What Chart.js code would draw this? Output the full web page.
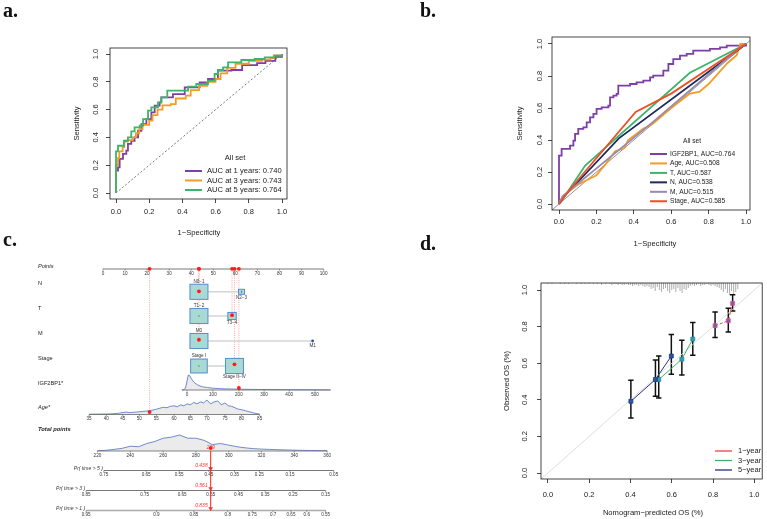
<!DOCTYPE html>
<html>
<head>
<meta charset="utf-8">
<title>ROC, nomogram and calibration</title>
<script src="https://cdn.jsdelivr.net/npm/chart.js@4.4.1/dist/chart.umd.min.js"></script>
<style>
  html, body { margin: 0; padding: 0; background: #fff; }
  #fig { position: relative; width: 767px; height: 519px; overflow: hidden; }
  #fig canvas { position: absolute; left: 0; top: 0; }
  .tag { position: absolute; font: bold 20px/20px "Liberation Serif", "DejaVu Serif", serif; color: #111; }
</style>
</head>
<body>
<div id="fig">
  <canvas id="chartA" width="767" height="519"></canvas>
  <canvas id="chartB" width="767" height="519"></canvas>
  <canvas id="chartC" width="767" height="519"></canvas>
  <canvas id="chartD" width="767" height="519"></canvas>
  <div class="tag" style="left:3px;top:0px">a.</div>
  <div class="tag" style="left:420px;top:0px">b.</div>
  <div class="tag" style="left:3px;top:229px">c.</div>
  <div class="tag" style="left:420px;top:233px">d.</div>
</div>
<script>
// ============================================
// ROC curves (a, b), nomogram (c), calibration (d)
// ============================================

// ---- a. time-dependent ROC ----
const rocTicks = [0, 0.2, 0.4, 0.6, 0.8, 1.0];
const aLabels = ['AUC at 1 years: 0.740', 'AUC at 3 years: 0.743', 'AUC at 5 years: 0.764'];
const aColors = ['#7d3fa6', '#f39c25', '#3db36c'];
const a1Fpr = [0, 0, 0.012, 0.022, 0.042, 0.062, 0.072, 0.092, 0.112, 0.133, 0.153, 0.183, 0.213, 0.233, 0.263, 0.273, 0.343, 0.414, 0.504, 0.554, 0.614, 0.695, 0.75, 0.76, 0.85, 0.9, 0.95, 0.96, 1];
const a1Tpr = [0, 0.161, 0.185, 0.245, 0.281, 0.305, 0.353, 0.376, 0.40, 0.448, 0.496, 0.532, 0.58, 0.628, 0.652, 0.688, 0.712, 0.76, 0.796, 0.82, 0.88, 0.885, 0.885, 0.92, 0.935, 0.95, 0.95, 0.98, 1];
const a3Fpr = [0, 0, 0.012, 0.02, 0.04, 0.05, 0.07, 0.1, 0.12, 0.14, 0.16, 0.2, 0.22, 0.25, 0.28, 0.33, 0.36, 0.42, 0.45, 0.5, 0.55, 0.6, 0.63, 0.67, 0.72, 0.8, 0.88, 0.93, 0.95, 1];
const a3Tpr = [0, 0.2, 0.25, 0.3, 0.33, 0.37, 0.38, 0.4, 0.43, 0.46, 0.49, 0.52, 0.56, 0.6, 0.63, 0.64, 0.68, 0.7, 0.74, 0.77, 0.8, 0.82, 0.86, 0.9, 0.93, 0.95, 0.96, 0.97, 0.99, 1];
const a5Fpr = [0, 0, 0.012, 0.012, 0.048, 0.048, 0.072, 0.092, 0.112, 0.143, 0.163, 0.193, 0.213, 0.253, 0.273, 0.309, 0.309, 0.394, 0.434, 0.484, 0.554, 0.594, 0.614, 0.645, 0.675, 0.755, 0.835, 0.896, 0.956, 1];
const a5Tpr = [0, 0.30, 0.30, 0.34, 0.34, 0.376, 0.40, 0.444, 0.472, 0.484, 0.532, 0.592, 0.616, 0.652, 0.688, 0.688, 0.736, 0.736, 0.765, 0.784, 0.808, 0.856, 0.885, 0.904, 0.94, 0.957, 0.964, 0.976, 0.988, 1];

// ---- b. ROC by variable ----
const bLabels = ['IGF2BP1, AUC=0.764', 'Age, AUC=0.508', 'T, AUC=0.587', 'N, AUC=0.538', 'M, AUC=0.515', 'Stage, AUC=0.585'];
const bColors = ['#7d3fa6', '#f39c25', '#3db36c', '#1d2a5c', '#9c88ab', '#f04f24'];
const bIgfFpr = [0, 0, 0.014, 0.014, 0.041, 0.059, 0.077, 0.086, 0.103, 0.13, 0.148, 0.166, 0.184, 0.201, 0.228, 0.264, 0.273, 0.291, 0.308, 0.317, 0.38, 0.415, 0.451, 0.487, 0.504, 0.558, 0.585, 0.611, 0.647, 0.683, 0.718, 0.807, 0.861, 0.897, 1];
const bIgfTpr = [0, 0.302, 0.302, 0.344, 0.344, 0.365, 0.396, 0.438, 0.469, 0.479, 0.51, 0.542, 0.563, 0.594, 0.604, 0.615, 0.667, 0.677, 0.688, 0.74, 0.75, 0.76, 0.771, 0.792, 0.802, 0.833, 0.875, 0.906, 0.927, 0.938, 0.958, 0.969, 0.979, 0.99, 1];
const bAgeFpr = [0, 0.02, 0.1, 0.2, 0.25, 0.3, 0.35, 0.37, 0.45, 0.5, 0.6, 0.7, 0.75, 0.8, 0.9, 0.95, 0.97, 1];
const bAgeTpr = [0, 0.05, 0.12, 0.18, 0.25, 0.33, 0.35, 0.4, 0.47, 0.5, 0.6, 0.69, 0.7, 0.75, 0.88, 0.93, 1, 1];
const bTFpr = [0, 0.02, 0.14, 0.7, 1];
const bTTpr = [0, 0.03, 0.24, 0.82, 1];
const bNFpr = [0, 0.03, 0.32, 1];
const bNTpr = [0, 0.05, 0.41, 1];
const bMFpr = [0, 0.02, 0.5, 0.98, 1];
const bMTpr = [0, 0.05, 0.51, 0.99, 1];
const bStageFpr = [0, 0.05, 0.41, 0.6, 1];
const bStageTpr = [0, 0.08, 0.575, 0.69, 1];

// ---- c. nomogram ----
const pointsTicks = [0, 10, 20, 30, 40, 50, 60, 70, 80, 90, 100];
const nLevels = ['N0−1', 'N2−3'], nPoints = [43.5, 62.8], nFreq = [0.9, 0.1], nSel = 0;
const tLevels = ['T1−2', 'T3−4'], tPoints = [43.5, 58.5], tFreq = [0.82, 0.18], tSel = 1;
const mLevels = ['M0', 'M1'], mPoints = [43.5, 95], mFreq = [0.98, 0.01], mSel = 0;
const stageLevels = ['Stage I', 'Stage II−IV'], stagePoints = [43.5, 59.6], stageFreq = [0.46, 0.54], stageSel = 1;
const igfTicks = [0, 100, 200, 300, 400, 500];
const igfTickPts = [38.1, 49.8, 61.6, 73.0, 84.4, 96.1];
const igfGrid = [-20, -10, -5, 0, 5, 10, 15, 20, 30, 40, 50, 60, 80, 100, 125, 150, 200, 250, 300, 400, 500, 560];
const igfDens = [0, 0.5, 3, 9, 15, 14.5, 12, 10, 7, 5.2, 4, 3.2, 2.4, 1.8, 1.4, 1.1, 0.8, 0.6, 0.5, 0.3, 0.2, 0.1];
const igfSel = 200;
const ageTicks = [35, 40, 45, 50, 55, 60, 65, 70, 75, 80, 85];
const ageTickPts = [-6.3, 1.5, 9.0, 16.5, 24.2, 32.2, 39.6, 47.1, 55.3, 62.8, 71.0];
const ageGrid = [35, 36, 37, 38, 39, 40, 41, 42, 43, 44, 45, 46, 47, 48, 49, 50, 51, 52, 53, 54, 55, 56, 57, 58, 59, 60, 61, 62, 63, 64, 65, 66, 67, 68, 69, 70, 71, 72, 73, 74, 75, 76, 77, 78, 79, 80, 81, 82, 83, 84, 85];
const ageDens = [0.3, 0.3, 0.4, 0.4, 0.5, 0.5, 0.6, 0.8, 1, 1.5, 2, 2.5, 2, 2.2, 2.5, 2.8, 3.2, 3.5, 4, 4.5, 5.5, 6.5, 7.5, 7, 8.5, 9, 8, 10, 9, 11, 10, 12.5, 11, 13, 12, 15, 11, 13, 14, 10, 12, 9, 8.5, 7, 5.5, 5, 4, 3, 2, 1, 0.5];
const ageSel = 53;
const totalTicks = [220, 240, 260, 280, 300, 320, 340, 360];
const totalTickPts = [-2.5, 12.4, 27.3, 42.1, 57.0, 71.8, 86.7, 101.6];
const totalGrid = [220, 225, 230, 235, 240, 245, 250, 255, 260, 265, 270, 275, 280, 285, 290, 295, 300, 305, 310, 315, 320, 325, 330, 335, 340, 345, 350, 355, 360];
const totalDens = [0.3, 0.6, 1.5, 2.5, 4.5, 4, 7, 9, 12, 13, 15, 12, 12, 10, 6, 7, 5.5, 4, 3, 2.2, 1.8, 1.5, 1.2, 1, 0.8, 0.6, 0.5, 0.4, 0.3];
const totalSel = 289;
const prNames = ['Pr( time > 5 )', 'Pr( time > 3 )', 'Pr( time > 1 )'];
const pr5Ticks = ['0.75', '0.65', '0.55', '0.45', '0.35', '0.25', '0.15', '0.05'];
const pr5Total = [223.9, 249.6, 269.8, 287.9, 303.6, 318.7, 337.4, 364.0];
const pr3Ticks = ['0.85', '0.75', '0.65', '0.55', '0.45', '0.35', '0.25', '0.15'];
const pr3Total = [213.1, 248.7, 271.6, 289.1, 306.0, 322.3, 339.2, 359.1];
const pr1Ticks = ['0.95', '0.9', '0.85', '0.8', '0.75', '0.7', '0.65', '0.6', '0.55'];
const pr1Total = [213.1, 255.9, 278.8, 299.4, 314.4, 327.1, 338.0, 347.6, 359.1];
const prPred = ['0.438', '0.561', '0.835'];

// ---- d. calibration ----
const calLabels = ['1−year', '3−year', '5−year'];
const calColors = ['#e8453c', '#3db36c', '#25307a'];
const cal1Pred = [0.81, 0.874, 0.895], cal1Obs = [0.805, 0.832, 0.927], cal1Lo = [0.741, 0.77, 0.885], cal1Hi = [0.88, 0.9, 0.974];
const cal3Pred = [0.537, 0.649, 0.702], cal3Obs = [0.511, 0.622, 0.732], cal3Lo = [0.41, 0.535, 0.644], cal3Hi = [0.639, 0.726, 0.823];
const cal5Pred = [0.402, 0.521, 0.598], cal5Obs = [0.392, 0.511, 0.639], cal5Lo = [0.301, 0.42, 0.54], cal5Hi = [0.507, 0.617, 0.757];
const rugX = [0, 0.02, 0.04, 0.06, 0.08, 0.1, 0.12, 0.14, 0.16, 0.18, 0.2, 0.22, 0.24, 0.26, 0.28,
  0.3, 0.31, 0.32, 0.33, 0.34, 0.35, 0.36, 0.37, 0.38, 0.39, 0.4, 0.41, 0.42, 0.43, 0.44, 0.45, 0.46, 0.47, 0.48, 0.49,
  0.5, 0.51, 0.52, 0.53, 0.54, 0.55, 0.56, 0.57, 0.58, 0.59, 0.6, 0.61, 0.62, 0.63, 0.64, 0.65, 0.66, 0.67, 0.68,
  0.69, 0.7, 0.71, 0.72, 0.73, 0.74, 0.75, 0.76, 0.77, 0.78, 0.79, 0.8, 0.81, 0.82,
  0.83, 0.84, 0.85, 0.86, 0.87, 0.88, 0.89, 0.9, 0.91, 0.92];
const rugN = [1, 1, 0, 1, 1, 1, 0, 1, 1, 1, 1, 1, 1, 2, 1,
  1, 2, 1, 1, 2, 1, 2, 2, 1, 2, 2, 3, 2, 2, 3, 2, 3, 4, 3, 4,
  6, 5, 8, 4, 7, 9, 6, 5, 8, 10, 7, 6, 9, 5, 8, 10, 6, 7, 5,
  3, 2, 3, 2, 1, 3, 2, 2, 1, 2, 3, 2, 3, 4,
  5, 7, 9, 6, 10, 12, 8, 11, 9, 6];

// --------------------------------------------
const W = 767, H = 519;
const SANS = "'Liberation Sans', Arial, sans-serif";
const INK = '#1a1a1a';
Chart.defaults.font.family = SANS;
Chart.defaults.animation = false;

// plot box in page pixels + pixel positions of 0 and 1 -> axis limits
function frame(box, x0, x1, y0, y1) {
  const sx = x1 - x0, sy = y0 - y1;
  return { box, xmin: (box.l - x0) / sx, xmax: (box.r - x0) / sx, ymin: (y0 - box.b) / sy, ymax: (y0 - box.t) / sy };
}

const xy = (xs, ys) => xs.map((x, i) => ({ x, y: ys[i] }));

function curve(xs, ys, color, extra) {
  return Object.assign({
    data: xy(xs, ys), borderColor: color, backgroundColor: color,
    borderWidth: 1.8, pointRadius: 0, fill: false, tension: 0
  }, extra || {});
}

function baseOptions(fr, frameOpts) {
  const grid = { drawOnChartArea: false, drawTicks: true, tickLength: 4, color: INK, tickColor: INK, lineWidth: 0.8 };
  const setTicks = s => { s.ticks = rocTicks.map(v => ({ value: v })); };
  return {
    responsive: false, animation: false, events: [], devicePixelRatio: 1,
    layout: { padding: { left: fr.box.l, top: fr.box.t, right: W - fr.box.r, bottom: H - fr.box.b } },
    scales: {
      x: { type: 'linear', min: fr.xmin, max: fr.xmax, grid, border: { display: false },
           ticks: { display: false }, afterBuildTicks: setTicks, afterFit: s => { s.height = 0; } },
      y: { type: 'linear', min: fr.ymin, max: fr.ymax, grid, border: { display: false },
           ticks: { display: false }, afterBuildTicks: setTicks, afterFit: s => { s.width = 0; } }
    },
    plugins: { legend: { display: false }, tooltip: { enabled: false }, rframe: frameOpts }
  };
}

function vText(ctx, s, x, y) {
  ctx.save(); ctx.translate(x, y); ctx.rotate(-Math.PI / 2); ctx.fillText(s, 0, 0); ctx.restore();
}

// R-style box, rotated y labels, titles and inset legend
const rFrame = {
  id: 'rframe',
  afterDraw(chart, args, o) {
    const { ctx, chartArea: a, scales: { x, y } } = chart;
    ctx.save();
    ctx.strokeStyle = INK; ctx.lineWidth = 0.8;
    ctx.strokeRect(a.left, a.top, a.right - a.left, a.bottom - a.top);
    ctx.fillStyle = INK; ctx.font = '7.5px ' + SANS;
    ctx.textAlign = 'center'; ctx.textBaseline = 'middle';
    x.ticks.forEach(t => ctx.fillText(t.value.toFixed(1), x.getPixelForValue(t.value), o.xLabelY));
    y.ticks.forEach(t => vText(ctx, t.value.toFixed(1), o.yLabelX, y.getPixelForValue(t.value)));
    ctx.font = '7.6px ' + SANS;
    ctx.fillText(o.xTitle, o.xTitleX, o.xTitleY);
    vText(ctx, o.yTitle, o.yTitleX, (a.top + a.bottom) / 2);
    const L = o.legend;
    if (L) {
      ctx.font = L.font;
      if (L.title) ctx.fillText(L.title, L.titleX, L.titleY);
      ctx.textAlign = 'left';
      L.labels.forEach((s, i) => {
        const yy = L.y0 + i * L.dy;
        ctx.strokeStyle = L.colors[i]; ctx.lineWidth = L.lw;
        ctx.beginPath(); ctx.moveTo(L.x0, yy); ctx.lineTo(L.x1, yy); ctx.stroke();
        ctx.fillText(s, L.textX, yy);
      });
    }
    ctx.restore();
  }
};

// ---------- a ----------
const frA = frame({ l: 110, t: 48, r: 287, b: 199 }, 116, 282, 193, 54);
new Chart(document.getElementById('chartA'), {
  type: 'line',
  data: { datasets: [
    curve([0, 1], [0, 1], '#555', { borderWidth: 0.8, borderDash: [2, 2], order: 4 }),
    curve(a1Fpr, a1Tpr, aColors[0], { stepped: true, order: 3 }),
    curve(a3Fpr, a3Tpr, aColors[1], { stepped: true, order: 2 }),
    curve(a5Fpr, a5Tpr, aColors[2], { stepped: true, order: 1 })
  ] },
  options: baseOptions(frA, {
    xLabelY: 212, yLabelX: 96, xTitle: '1−Specificity', xTitleX: 199, xTitleY: 233,
    yTitle: 'Sensitivity', yTitleX: 77,
    legend: { title: 'All set', titleX: 235, titleY: 158, labels: aLabels, colors: aColors,
              x0: 185, x1: 202, textX: 207, y0: 171, dy: 9.5, lw: 2, font: '7.6px ' + SANS }
  }),
  plugins: [rFrame]
});

// ---------- b ----------
const frB = frame({ l: 552, t: 37, r: 750, b: 210 }, 559, 746, 204, 44);
const bFpr = [bIgfFpr, bAgeFpr, bTFpr, bNFpr, bMFpr, bStageFpr];
const bTpr = [bIgfTpr, bAgeTpr, bTTpr, bNTpr, bMTpr, bStageTpr];
new Chart(document.getElementById('chartB'), {
  type: 'line',
  data: { datasets: [
    curve([-0.1, 1.1], [-0.1, 1.1], '#777', { borderWidth: 0.8, order: 10 }),
    ...bFpr.map((f, i) => curve(f, bTpr[i], bColors[i], { stepped: i === 0, order: 6 - i }))
  ] },
  options: baseOptions(frB, {
    xLabelY: 222, yLabelX: 540, xTitle: '1−Specificity', xTitleX: 655, xTitleY: 244,
    yTitle: 'Sensitivity', yTitleX: 520,
    legend: { title: 'All set', titleX: 692, titleY: 141, labels: bLabels, colors: bColors,
              x0: 650, x1: 667, textX: 670, y0: 154, dy: 9.45, lw: 2, font: '6.6px ' + SANS }
  }),
  plugins: [rFrame]
});

// ---------- c: nomogram ----------
function interp(v, xs, ys) {
  let i = 1;
  while (i < xs.length - 1 && v > xs[i]) i++;
  const t = (v - xs[i - 1]) / (xs[i] - xs[i - 1]);
  return ys[i - 1] + t * (ys[i] - ys[i - 1]);
}
const totPts = v => interp(v, totalTicks, totalTickPts);
const agePts = v => interp(v, ageTicks, ageTickPts);
const igfPts = v => interp(v, igfTicks, igfTickPts);

const ROW = { points: 269, N: 291.8, T: 316, M: 341, stage: 366, igf: 390, age: 414.5, total: 451, pr: [470.5, 490.5, 510.5] };
const rowLabels = [
  ['Points', 266, 'italic 5.6px'], ['N', 283, '5.6px'], ['T', 308, '5.6px'], ['M', 333, '5.6px'],
  ['Stage', 358, '5.6px'], ['IGF2BP1*', 383, '5.6px'], ['Age*', 407, 'italic 5.6px'], ['Total points', 429, 'italic bold 5.8px']
];
const contrib = [
  { pts: agePts(ageSel), y: ROW.age },
  { pts: nPoints[nSel], y: ROW.N },
  { pts: tPoints[tSel], y: ROW.T },
  { pts: mPoints[mSel], y: ROW.M },
  { pts: stagePoints[stageSel], y: ROW.stage },
  { pts: igfPts(igfSel), y: ROW.igf }
];

function text(ctx, s, x, y, font, color, align) {
  ctx.font = font + ' ' + SANS; ctx.fillStyle = color;
  ctx.textAlign = align || 'center'; ctx.textBaseline = 'middle';
  ctx.fillText(s, x, y);
}

function scaleRow(ctx, x0, x1, y, ticksPx, labels, color, lw) {
  ctx.setLineDash([]);
  ctx.strokeStyle = color; ctx.lineWidth = lw;
  ctx.beginPath(); ctx.moveTo(x0, y); ctx.lineTo(x1, y); ctx.stroke();
  ctx.strokeStyle = '#555'; ctx.lineWidth = 0.6;
  ticksPx.forEach((px, i) => {
    ctx.beginPath(); ctx.moveTo(px, y); ctx.lineTo(px, y + 1.6); ctx.stroke();
    text(ctx, labels[i], px, y + 4.4, '4.6px', '#333');
  });
}

function density(ctx, X, toPts, grid, dens, base, hMax) {
  const m = Math.max(...dens);
  const pts = grid.map((v, i) => [X(toPts(v)), base - dens[i] / m * hMax]);
  ctx.beginPath();
  ctx.moveTo(pts[0][0], base);
  pts.forEach(p => ctx.lineTo(p[0], p[1]));
  ctx.lineTo(pts[pts.length - 1][0], base);
  ctx.closePath();
  ctx.fillStyle = '#ebebeb'; ctx.fill();
  ctx.beginPath();
  pts.forEach((p, i) => i ? ctx.lineTo(p[0], p[1]) : ctx.moveTo(p[0], p[1]));
  ctx.strokeStyle = '#4d6ec2'; ctx.lineWidth = 0.8; ctx.stroke();
}

function catRow(ctx, X, levels, pts, freq, sel, y) {
  const fmax = Math.max(...freq);
  ctx.strokeStyle = '#d4d4d4'; ctx.lineWidth = 1.5;
  ctx.beginPath(); ctx.moveTo(X(pts[0]), y); ctx.lineTo(X(pts[pts.length - 1]), y); ctx.stroke();
  levels.forEach((s, i) => {
    const cx = X(pts[i]);
    const side = 18 * Math.sqrt(freq[i] / fmax);
    let h;
    if (side < 3) {
      h = 2.6;
      ctx.fillStyle = '#2b4ea3';
      ctx.beginPath(); ctx.arc(cx, y, 1.4, 0, Math.PI * 2); ctx.fill();
    } else {
      const w = side; h = side * 0.84;
      ctx.fillStyle = '#a8d9d2'; ctx.fillRect(cx - w / 2, y - h / 2, w, h);
      ctx.strokeStyle = '#5b8bd0'; ctx.lineWidth = 1; ctx.strokeRect(cx - w / 2, y - h / 2, w, h);
      if (i !== sel) {
        ctx.fillStyle = '#333';
        ctx.beginPath(); ctx.arc(cx, y, 0.6, 0, Math.PI * 2); ctx.fill();
      }
    }
    text(ctx, s, cx, i === 0 ? y - h / 2 - 2.8 : y + h / 2 + 3.2, '4.6px', '#333');
  });
}

const nomogram = {
  id: 'nomogram',
  beforeDatasetsDraw(chart) {
    const ctx = chart.ctx;
    const X = v => chart.scales.x.getPixelForValue(v);
    ctx.save();
    rowLabels.forEach(r => text(ctx, r[0], 38, r[1], r[2], '#222', 'left'));

    // red guide lines from the points scale
    ctx.strokeStyle = '#ff7d7d'; ctx.lineWidth = 0.7; ctx.setLineDash([1, 1.2]);
    contrib.forEach(c => {
      ctx.beginPath(); ctx.moveTo(X(c.pts), ROW.points); ctx.lineTo(X(c.pts), c.y); ctx.stroke();
    });
    ctx.setLineDash([]);

    scaleRow(ctx, X(0), X(100), ROW.points, pointsTicks.map(X), pointsTicks.map(String), '#555', 0.8);
    catRow(ctx, X, nLevels, nPoints, nFreq, nSel, ROW.N);
    catRow(ctx, X, tLevels, tPoints, tFreq, tSel, ROW.T);
    catRow(ctx, X, mLevels, mPoints, mFreq, mSel, ROW.M);
    catRow(ctx, X, stageLevels, stagePoints, stageFreq, stageSel, ROW.stage);

    density(ctx, X, igfPts, igfGrid, igfDens, ROW.igf, 15);
    scaleRow(ctx, X(igfPts(igfGrid[0])), X(igfPts(igfGrid[igfGrid.length - 1])), ROW.igf,
      igfTicks.map(v => X(igfPts(v))), igfTicks.map(String), '#666', 0.8);
    density(ctx, X, agePts, ageGrid, ageDens, ROW.age, 14.5);
    scaleRow(ctx, X(agePts(35)), X(agePts(85)), ROW.age,
      ageTicks.map(v => X(agePts(v))), ageTicks.map(String), '#666', 0.8);
    density(ctx, X, totPts, totalGrid, totalDens, ROW.total, 16);
    scaleRow(ctx, X(totPts(220)), X(totPts(360)), ROW.total,
      totalTicks.map(v => X(totPts(v))), totalTicks.map(String), '#666', 0.8);

    const prTotals = [pr5Total, pr3Total, pr1Total];
    const prTicks = [pr5Ticks, pr3Ticks, pr1Ticks];
    prTotals.forEach((pos, k) => {
      const y = ROW.pr[k];
      const px = pos.map(v => X(totPts(v)));
      scaleRow(ctx, px[0], px[px.length - 1], y, px, prTicks[k], k === 2 ? '#ababab' : '#555', k === 2 ? 1.6 : 0.8);
      text(ctx, prNames[k], px[0] - 1, y - 1.5, 'italic 5px', '#333', 'right');
    });

    // prediction for the selected patient
    const lx = X(totPts(totalSel));
    ctx.strokeStyle = '#ff2020'; ctx.lineWidth = 1;
    ctx.beginPath(); ctx.moveTo(lx, ROW.total); ctx.lineTo(lx, ROW.pr[2]); ctx.stroke();
    ctx.fillStyle = '#ff2020';
    ROW.pr.forEach((y, k) => {
      ctx.beginPath(); ctx.moveTo(lx - 2.3, y - 3.2); ctx.lineTo(lx + 2.3, y - 3.2); ctx.lineTo(lx, y + 0.6); ctx.closePath(); ctx.fill();
      text(ctx, prPred[k], lx - 3, y - 4.8, 'italic 5px', '#ff3030', 'right');
    });
    text(ctx, String(totalSel), lx, ROW.total - 3.6, 'italic 5px', '#ff3030');
    ctx.restore();
  }
};

const redDots = [
  ...contrib.map(c => ({ x: c.pts, y: ROW.points })),
  ...contrib.map(c => ({ x: c.pts, y: c.y })),
  { x: totPts(totalSel), y: ROW.total }
];
new Chart(document.getElementById('chartC'), {
  type: 'scatter',
  data: { datasets: [{ data: redDots, pointRadius: 1.9, pointBackgroundColor: '#ff1a1a', pointBorderWidth: 0 }] },
  options: {
    responsive: false, animation: false, events: [], devicePixelRatio: 1,
    layout: { padding: 0 },
    scales: {
      x: { type: 'linear', display: false, min: -100 / 2.23, max: (W - 100) / 2.23 },
      y: { type: 'linear', display: false, min: 0, max: H, reverse: true }
    },
    plugins: { legend: { display: false }, tooltip: { enabled: false } }
  },
  plugins: [nomogram]
});

// ---------- d: calibration ----------
const calSets = [
  { pred: cal1Pred, lo: cal1Lo, hi: cal1Hi },
  { pred: cal3Pred, lo: cal3Lo, hi: cal3Hi },
  { pred: cal5Pred, lo: cal5Lo, hi: cal5Hi }
];
const calib = {
  id: 'calib',
  beforeDatasetsDraw(chart) {
    const { ctx, chartArea: a, scales: { x, y } } = chart;
    ctx.save();
    ctx.strokeStyle = '#8a8a8a'; ctx.lineWidth = 0.7;
    rugX.forEach((v, i) => {
      if (!rugN[i]) return;
      const px = x.getPixelForValue(v);
      ctx.beginPath(); ctx.moveTo(px, a.top); ctx.lineTo(px, a.top + rugN[i]); ctx.stroke();
    });
    ctx.strokeStyle = '#111'; ctx.lineWidth = 1.5;
    calSets.forEach(s => s.pred.forEach((p, i) => {
      const px = x.getPixelForValue(p), lo = y.getPixelForValue(s.lo[i]), hi = y.getPixelForValue(s.hi[i]);
      ctx.beginPath();
      ctx.moveTo(px, lo); ctx.lineTo(px, hi);
      ctx.moveTo(px - 2.7, lo); ctx.lineTo(px + 2.7, lo);
      ctx.moveTo(px - 2.7, hi); ctx.lineTo(px + 2.7, hi);
      ctx.stroke();
    }));
    ctx.restore();
  }
};
const frD = frame({ l: 541, t: 283, r: 765, b: 479 }, 548, 757, 473, 290);
const calPred = [cal1Pred, cal3Pred, cal5Pred];
const calObs = [cal1Obs, cal3Obs, cal5Obs];
const calPointFill = ['#7a5db0', '#2e9db0', '#2f55a8'];
const calPointLine = ['#e0568c', '#2a8a9a', '#1f3a80'];
new Chart(document.getElementById('chartD'), {
  type: 'line',
  data: { datasets: [
    curve([-0.1, 1.1], [-0.1, 1.1], '#dadada', { borderWidth: 0.9, order: 10 }),
    ...calPred.map((p, i) => curve(p, calObs[i], calColors[i], {
      borderWidth: 1, borderDash: i === 0 ? [3, 2] : [], order: 3 - i,
      pointRadius: 2.8, pointStyle: 'rect', pointBackgroundColor: calPointFill[i],
      pointBorderColor: calPointLine[i], pointBorderWidth: 0.8
    }))
  ] },
  options: baseOptions(frD, {
    xLabelY: 495, yLabelX: 525, xTitle: 'Nomogram−predicted OS (%)', xTitleX: 653, xTitleY: 513,
    yTitle: 'Observed OS (%)', yTitleX: 507,
    legend: { labels: calLabels, colors: calColors, x0: 715, x1: 732, textX: 738, y0: 451, dy: 9.5, lw: 1.3,
              font: '7.5px ' + SANS }
  }),
  plugins: [rFrame, calib]
});
</script>
</body>
</html>
